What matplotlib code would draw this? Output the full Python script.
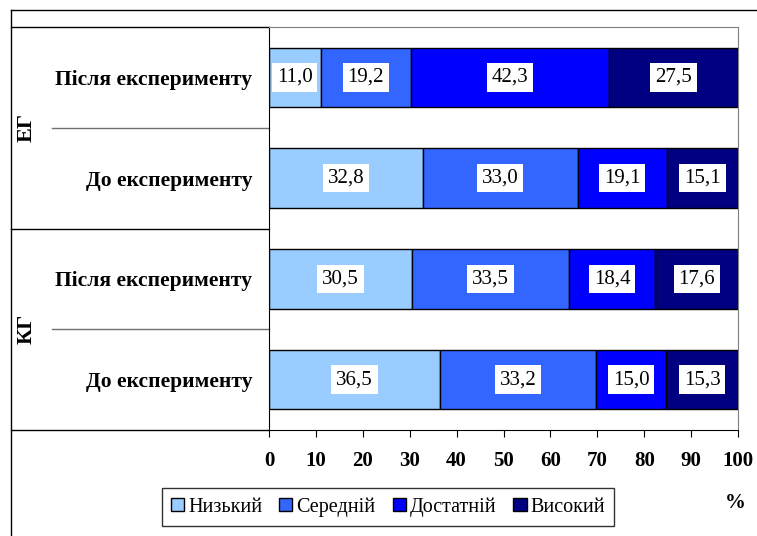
import matplotlib.pyplot as plt
from matplotlib.transforms import blended_transform_factory
from matplotlib.lines import Line2D

# data (top row first)
rows = ["Після експерименту", "До експерименту", "Після експерименту", "До експерименту"]
groups = ["ЕГ", "КГ"]
levels = ["Низький", "Середній", "Достатній", "Високий"]
low = [11.0, 32.8, 30.5, 36.5]
mid = [19.2, 33.0, 33.5, 33.2]
suff = [42.3, 19.1, 18.4, 15.0]
high = [27.5, 15.1, 17.6, 15.3]
colors = ["#99CCFF", "#3366FF", "#0000FF", "#000080"]

W, H = 757, 536
plt.rcParams['font.family'] = ['Liberation Serif', 'DejaVu Serif']
fig = plt.figure(figsize=(W / 100, H / 100), dpi=100)
ax = fig.add_axes([269 / W, (H - 430) / H, (738 - 269) / W, (430 - 27) / H])

# stacked bars
y = list(range(len(rows)))
left = [0.0] * len(rows)
for name, vals, col in zip(levels, [low, mid, suff, high], colors):
    ax.barh(y, vals, left=left, height=0.59, color=col, edgecolor='black',
            linewidth=1, label=name)
    for yi, l, v in zip(y, left, vals):
        ax.text(l + v / 2, yi, f"{v:.1f}".replace(".", ","), ha='center', va='center',
                fontsize=15, color='black',
                bbox=dict(facecolor='white', edgecolor='none', pad=3.5))
    left = [a + b for a, b in zip(left, vals)]

ax.set_xlim(0, 100)
ax.set_ylim(3.5, -0.5)
ax.set_xticks(range(0, 101, 10))
ax.tick_params(axis='x', direction='out', length=5, labelsize=15, pad=10)
for lbl in ax.get_xticklabels():
    lbl.set_fontweight('bold')
ax.set_yticks(y)
ax.set_yticklabels(rows, fontsize=15.5, fontweight='bold')
ax.tick_params(axis='y', length=0, pad=12)
for s in ['top', 'right']:
    ax.spines[s].set_color('#808080')
for s in ['left', 'bottom']:
    ax.spines[s].set_color('black')

# group separators on the left
tr = blended_transform_factory(fig.transFigure, ax.transData)
for yy, x0 in [(-0.5, 11), (0.5, 52), (1.5, 11), (2.5, 52), (3.5, 11)]:
    ax.plot([x0 / W, 269 / W], [yy, yy], transform=tr, clip_on=False,
            color='black' if x0 == 11 else '#707070', linewidth=1)
for g, yy in zip(groups, [0.5, 2.5]):
    ax.text(27 / W, yy, g, transform=tr, rotation=90, ha='center', va='center',
            fontsize=16, fontweight='bold')

# outer frame
fig.add_artist(Line2D([11 / W, 1], [1 - 10 / H, 1 - 10 / H], color='black', linewidth=1))
fig.add_artist(Line2D([11 / W, 11 / W], [0, 1 - 10 / H], color='black', linewidth=1))

# legend
leg = fig.legend(loc='center', bbox_to_anchor=(388 / W, 1 - 507 / H), ncol=4,
                 fontsize=14.5, frameon=True, fancybox=False, edgecolor='black',
                 handlelength=0.65, handleheight=0.65, handletextpad=0.2,
                 columnspacing=0.85, borderpad=0.45)
leg.get_frame().set_linewidth(1)
for h in leg.legend_handles:
    h.set_edgecolor('black')

fig.text(735 / W, 1 - 503 / H, "%", ha='center', va='center', fontsize=15, fontweight='bold')

plt.savefig("out.png", dpi=100)
